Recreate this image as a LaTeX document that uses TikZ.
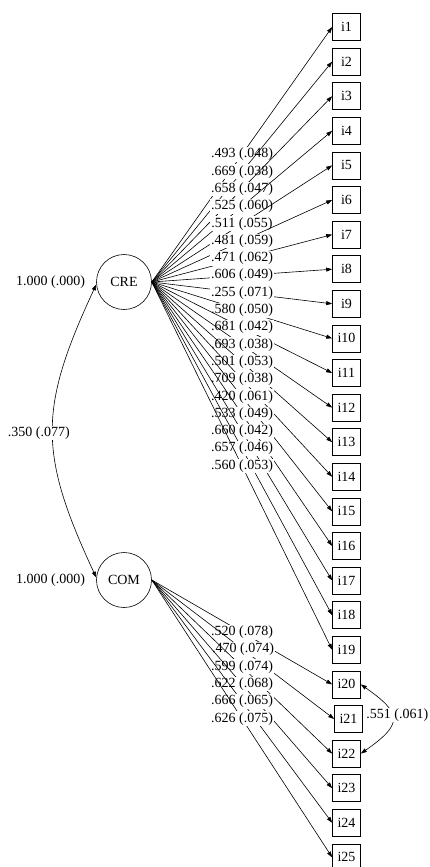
\documentclass[tikz,border=0pt]{standalone}
\usepackage{fontspec}
\setmainfont{Liberation Serif}
\usetikzlibrary{positioning,arrows.meta}

\begin{document}
\begin{tikzpicture}[
  x=1pt, y=1pt,
  font=\fontsize{14}{16}\selectfont,
  factor/.style={draw, circle, minimum size=55pt, inner sep=0pt, line width=0.6pt},
  item/.style={draw, rectangle, minimum width=28pt, minimum height=27pt, inner sep=0pt, line width=0.6pt},
  est/.style={fill=white, inner sep=1pt},
  load/.style={-{Triangle[length=6pt,width=4pt]}, line width=0.6pt},
  cov/.style={{Triangle[length=6pt,width=4pt]}-{Triangle[length=6pt,width=4pt]}, line width=0.6pt}
]
  \useasboundingbox (0,0) rectangle (430,-867);

  % latent factors
  \node[factor] (CRE) at (124,-282) {CRE};
  \node[factor] (COM) at (124,-580) {COM};
  \node[est, left=10pt of CRE] (varCRE) {1.000 (.000)};
  \node[est, left=10pt of COM] (varCOM) {1.000 (.000)};

  % indicators
  \node[item] (i1) at (346.5,-27) {i1};
  \node[item] (i2) at (346.5,-61.6) {i2};
  \node[item] (i3) at (346.5,-96.2) {i3};
  \node[item] (i4) at (346.5,-130.8) {i4};
  \node[item] (i5) at (346.5,-165.4) {i5};
  \node[item] (i6) at (346.5,-200) {i6};
  \node[item] (i7) at (346.5,-234.6) {i7};
  \node[item] (i8) at (346.5,-269.2) {i8};
  \node[item] (i9) at (346.5,-303.8) {i9};
  \node[item] (i10) at (346.5,-338.4) {i10};
  \node[item] (i11) at (346.5,-373) {i11};
  \node[item] (i12) at (346.5,-407.6) {i12};
  \node[item] (i13) at (346.5,-442.2) {i13};
  \node[item] (i14) at (346.5,-476.8) {i14};
  \node[item] (i15) at (346.5,-511.4) {i15};
  \node[item] (i16) at (346.5,-546) {i16};
  \node[item] (i17) at (346.5,-580.6) {i17};
  \node[item] (i18) at (346.5,-615.2) {i18};
  \node[item] (i19) at (346.5,-649.8) {i19};
  \node[item] (i20) at (346.5,-684.4) {i20};
  \node[item] (i21) at (348.5,-719) {i21};
  \node[item] (i22) at (346.5,-753.6) {i22};
  \node[item] (i23) at (346.5,-788.2) {i23};
  \node[item] (i24) at (346.5,-822.8) {i24};
  \node[item] (i25) at (346.5,-857.4) {i25};

  % loadings on CRE
  \draw[load] (CRE.east) -- node[est] {.493 (.048)} (i1.west);
  \draw[load] (CRE.east) -- node[est] {.669 (.038)} (i2.west);
  \draw[load] (CRE.east) -- node[est] {.658 (.047)} (i3.west);
  \draw[load] (CRE.east) -- node[est] {.525 (.060)} (i4.west);
  \draw[load] (CRE.east) -- node[est] {.511 (.055)} (i5.west);
  \draw[load] (CRE.east) -- node[est] {.481 (.059)} (i6.west);
  \draw[load] (CRE.east) -- node[est] {.471 (.062)} (i7.west);
  \draw[load] (CRE.east) -- node[est] {.606 (.049)} (i8.west);
  \draw[load] (CRE.east) -- node[est] {.255 (.071)} (i9.west);
  \draw[load] (CRE.east) -- node[est] {.580 (.050)} (i10.west);
  \draw[load] (CRE.east) -- node[est] {.681 (.042)} (i11.west);
  \draw[load] (CRE.east) -- node[est] {.693 (.038)} (i12.west);
  \draw[load] (CRE.east) -- node[est] {.501 (.053)} (i13.west);
  \draw[load] (CRE.east) -- node[est] {.709 (.038)} (i14.west);
  \draw[load] (CRE.east) -- node[est] {.420 (.061)} (i15.west);
  \draw[load] (CRE.east) -- node[est] {.533 (.049)} (i16.west);
  \draw[load] (CRE.east) -- node[est] {.660 (.042)} (i17.west);
  \draw[load] (CRE.east) -- node[est] {.657 (.046)} (i18.west);
  \draw[load] (CRE.east) -- node[est] {.560 (.053)} (i19.west);

  % loadings on COM
  \draw[load] (COM.east) -- node[est] {.520 (.078)} (i20.west);
  \draw[load] (COM.east) -- node[est] {.470 (.074)} (i21.west);
  \draw[load] (COM.east) -- node[est] {.599 (.074)} (i22.west);
  \draw[load] (COM.east) -- node[est] {.622 (.068)} (i23.west);
  \draw[load] (COM.east) -- node[est] {.666 (.065)} (i24.west);
  \draw[load] (COM.east) -- node[est] {.626 (.075)} (i25.west);

  % covariances
  \draw[cov] (CRE.185) to[out=245, in=115, looseness=1.2]
    node[est, xshift=-14pt, yshift=-2pt] {.350 (.077)} (COM.175);
  \draw[cov] (i20.east) to[out=-35, in=35, looseness=1.9]
    node[est, xshift=5pt, yshift=4pt] {.551 (.061)} (i22.east);

\end{tikzpicture}
\end{document}
